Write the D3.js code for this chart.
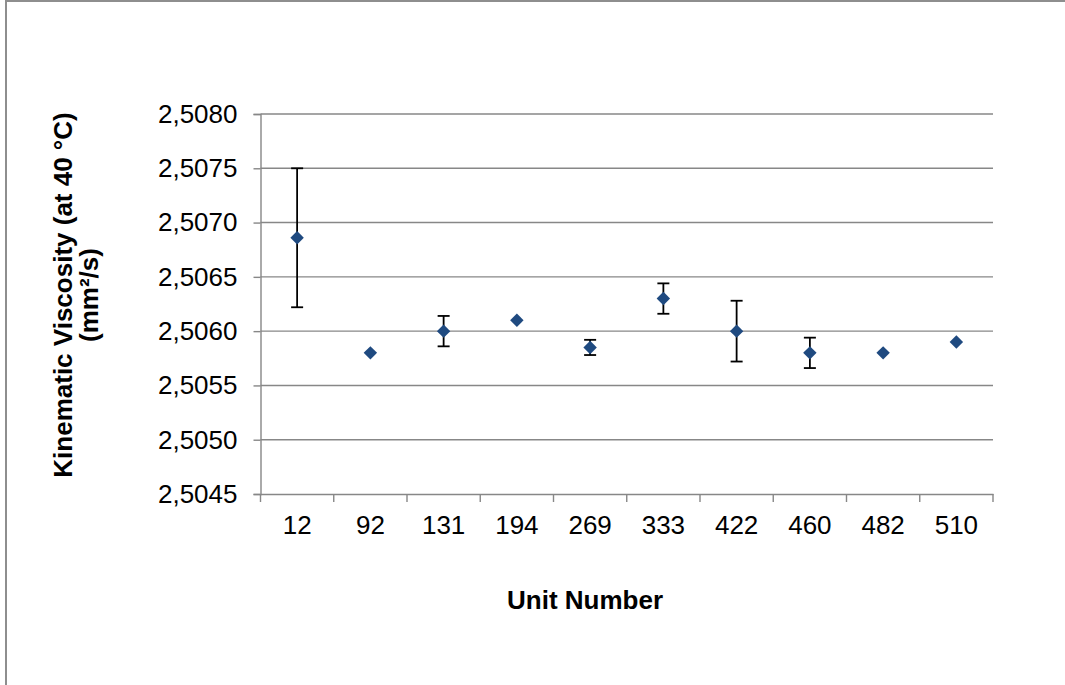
<!DOCTYPE html>
<html>
<head>
<meta charset="utf-8">
<style>
    body { margin: 0; background: #fff; }
    svg { display: block; font-family: "Liberation Sans", Arial, sans-serif; }
</style>
</head>
<body>
    <script src="https://d3js.org/d3.v7.js"></script>
    <script>
        // unit numbers along the x axis
        const units = ['12', '92', '131', '194', '269', '333', '422', '460', '482', '510']
        // mean kinematic viscosity per unit (mm2/s)
        const viscosity = [2.50686, 2.5058, 2.5060, 2.5061, 2.50585, 2.5063, 2.5060, 2.5058, 2.5058, 2.5059]
        // +/- error per unit
        const errors = [0.00064, 0, 0.00014, 0, 0.00007, 0.00014, 0.00028, 0.00014, 0, 0]
        const yTicks = [2.5045, 2.5050, 2.5055, 2.5060, 2.5065, 2.5070, 2.5075, 2.5080]

        const dataset = units.map((u, i) => ({ unit: u, v: viscosity[i], e: errors[i] }))

        const w = 1065
        const h = 685
        const plotL = 260.5, plotR = 993, plotT = 114, plotB = 494
        const grey = '#878787'

        const svg = d3.select('body')
                    .append('svg')
                    .attr('width', w)
                    .attr('height', h)

        // outer chart border: only left and top edges are in view
        svg.append('path')
            .attr('d', 'M6,' + h + 'V1H' + w)
            .attr('fill', 'none')
            .attr('stroke', '#8e8e8e')
            .attr('stroke-width', 2)

        const xScale = d3.scaleBand()
                        .domain(units)
                        .range([plotL, plotR])

        const yScale = d3.scaleLinear()
                       .domain([2.5045, 2.5080])
                       .range([plotB, plotT])

        // horizontal gridlines
        svg.append('g')
            .selectAll('line')
            .data(yTicks.slice(1))
            .enter()
            .append('line')
            .attr('x1', plotL)
            .attr('x2', plotR)
            .attr('y1', d => yScale(d))
            .attr('y2', d => yScale(d))
            .attr('stroke', grey)
            .attr('stroke-width', 1.4)

        const yAxis = d3.axisLeft(yScale)
                        .tickValues(yTicks)
                        .tickSize(7)
                        .tickPadding(16)
                        .tickFormat(d => d.toFixed(4).replace('.', ','))

        const gy = svg.append('g')
            .attr('transform', 'translate(' + plotL + ',0)')
            .call(yAxis)
        gy.select('.domain').attr('stroke', grey).attr('stroke-width', 1.4)
        gy.selectAll('.tick line').attr('stroke', grey).attr('stroke-width', 1.4)
        gy.selectAll('text')
            .attr('font-size', 26)
            .attr('font-family', '"Liberation Sans", Arial, sans-serif')
            .attr('fill', '#000')

        const xAxis = d3.axisBottom(xScale)
                        .tickSize(0)
                        .tickPadding(22)

        const gx = svg.append('g')
            .attr('transform', 'translate(0,' + plotB + ')')
            .call(xAxis)
        gx.select('.domain').attr('stroke', grey).attr('stroke-width', 1.4)
        gx.selectAll('text')
            .attr('font-size', 26)
            .attr('font-family', '"Liberation Sans", Arial, sans-serif')
            .attr('fill', '#000')

        // category boundary ticks
        gx.selectAll('.bound')
            .data(units.concat(['end']))
            .enter()
            .append('line')
            .attr('class', 'bound')
            .attr('x1', d => d === 'end' ? plotR : xScale(d))
            .attr('x2', d => d === 'end' ? plotR : xScale(d))
            .attr('y1', 0)
            .attr('y2', 8)
            .attr('stroke', grey)
            .attr('stroke-width', 1.4)

        const cx = d => xScale(d.unit) + xScale.bandwidth() / 2

        // error bars
        const eb = svg.append('g')
            .selectAll('g')
            .data(dataset.filter(d => d.e > 0))
            .enter()
            .append('g')
            .attr('stroke', '#000')
            .attr('stroke-width', 1.8)
        eb.append('line')
            .attr('x1', cx).attr('x2', cx)
            .attr('y1', d => yScale(d.v + d.e))
            .attr('y2', d => yScale(d.v - d.e))
        eb.append('line')
            .attr('x1', d => cx(d) - 6).attr('x2', d => cx(d) + 6)
            .attr('y1', d => yScale(d.v + d.e))
            .attr('y2', d => yScale(d.v + d.e))
        eb.append('line')
            .attr('x1', d => cx(d) - 6).attr('x2', d => cx(d) + 6)
            .attr('y1', d => yScale(d.v - d.e))
            .attr('y2', d => yScale(d.v - d.e))

        // diamond markers
        svg.append('g')
            .selectAll('path')
            .data(dataset)
            .enter()
            .append('path')
            .attr('d', d3.symbol(d3.symbolDiamond2, 115))
            .attr('transform', d => 'translate(' + cx(d) + ',' + yScale(d.v) + ')')
            .attr('fill', '#1F4A80')

        // axis titles
        svg.append('text')
            .attr('x', 585)
            .attr('y', 609)
            .attr('text-anchor', 'middle')
            .attr('font-size', 26)
            .attr('font-weight', 'bold')
            .text('Unit Number')

        const yt = svg.append('text')
            .attr('transform', 'translate(72,295) rotate(-90)')
            .attr('text-anchor', 'middle')
            .attr('font-size', 26)
            .attr('font-weight', 'bold')
        yt.append('tspan')
            .attr('x', 0)
            .attr('y', 0)
            .text('Kinematic Viscosity (at 40 °C)')
        yt.append('tspan')
            .attr('x', 0)
            .attr('y', 26)
            .text('(mm²/s)')
    </script>
</body>
</html>
